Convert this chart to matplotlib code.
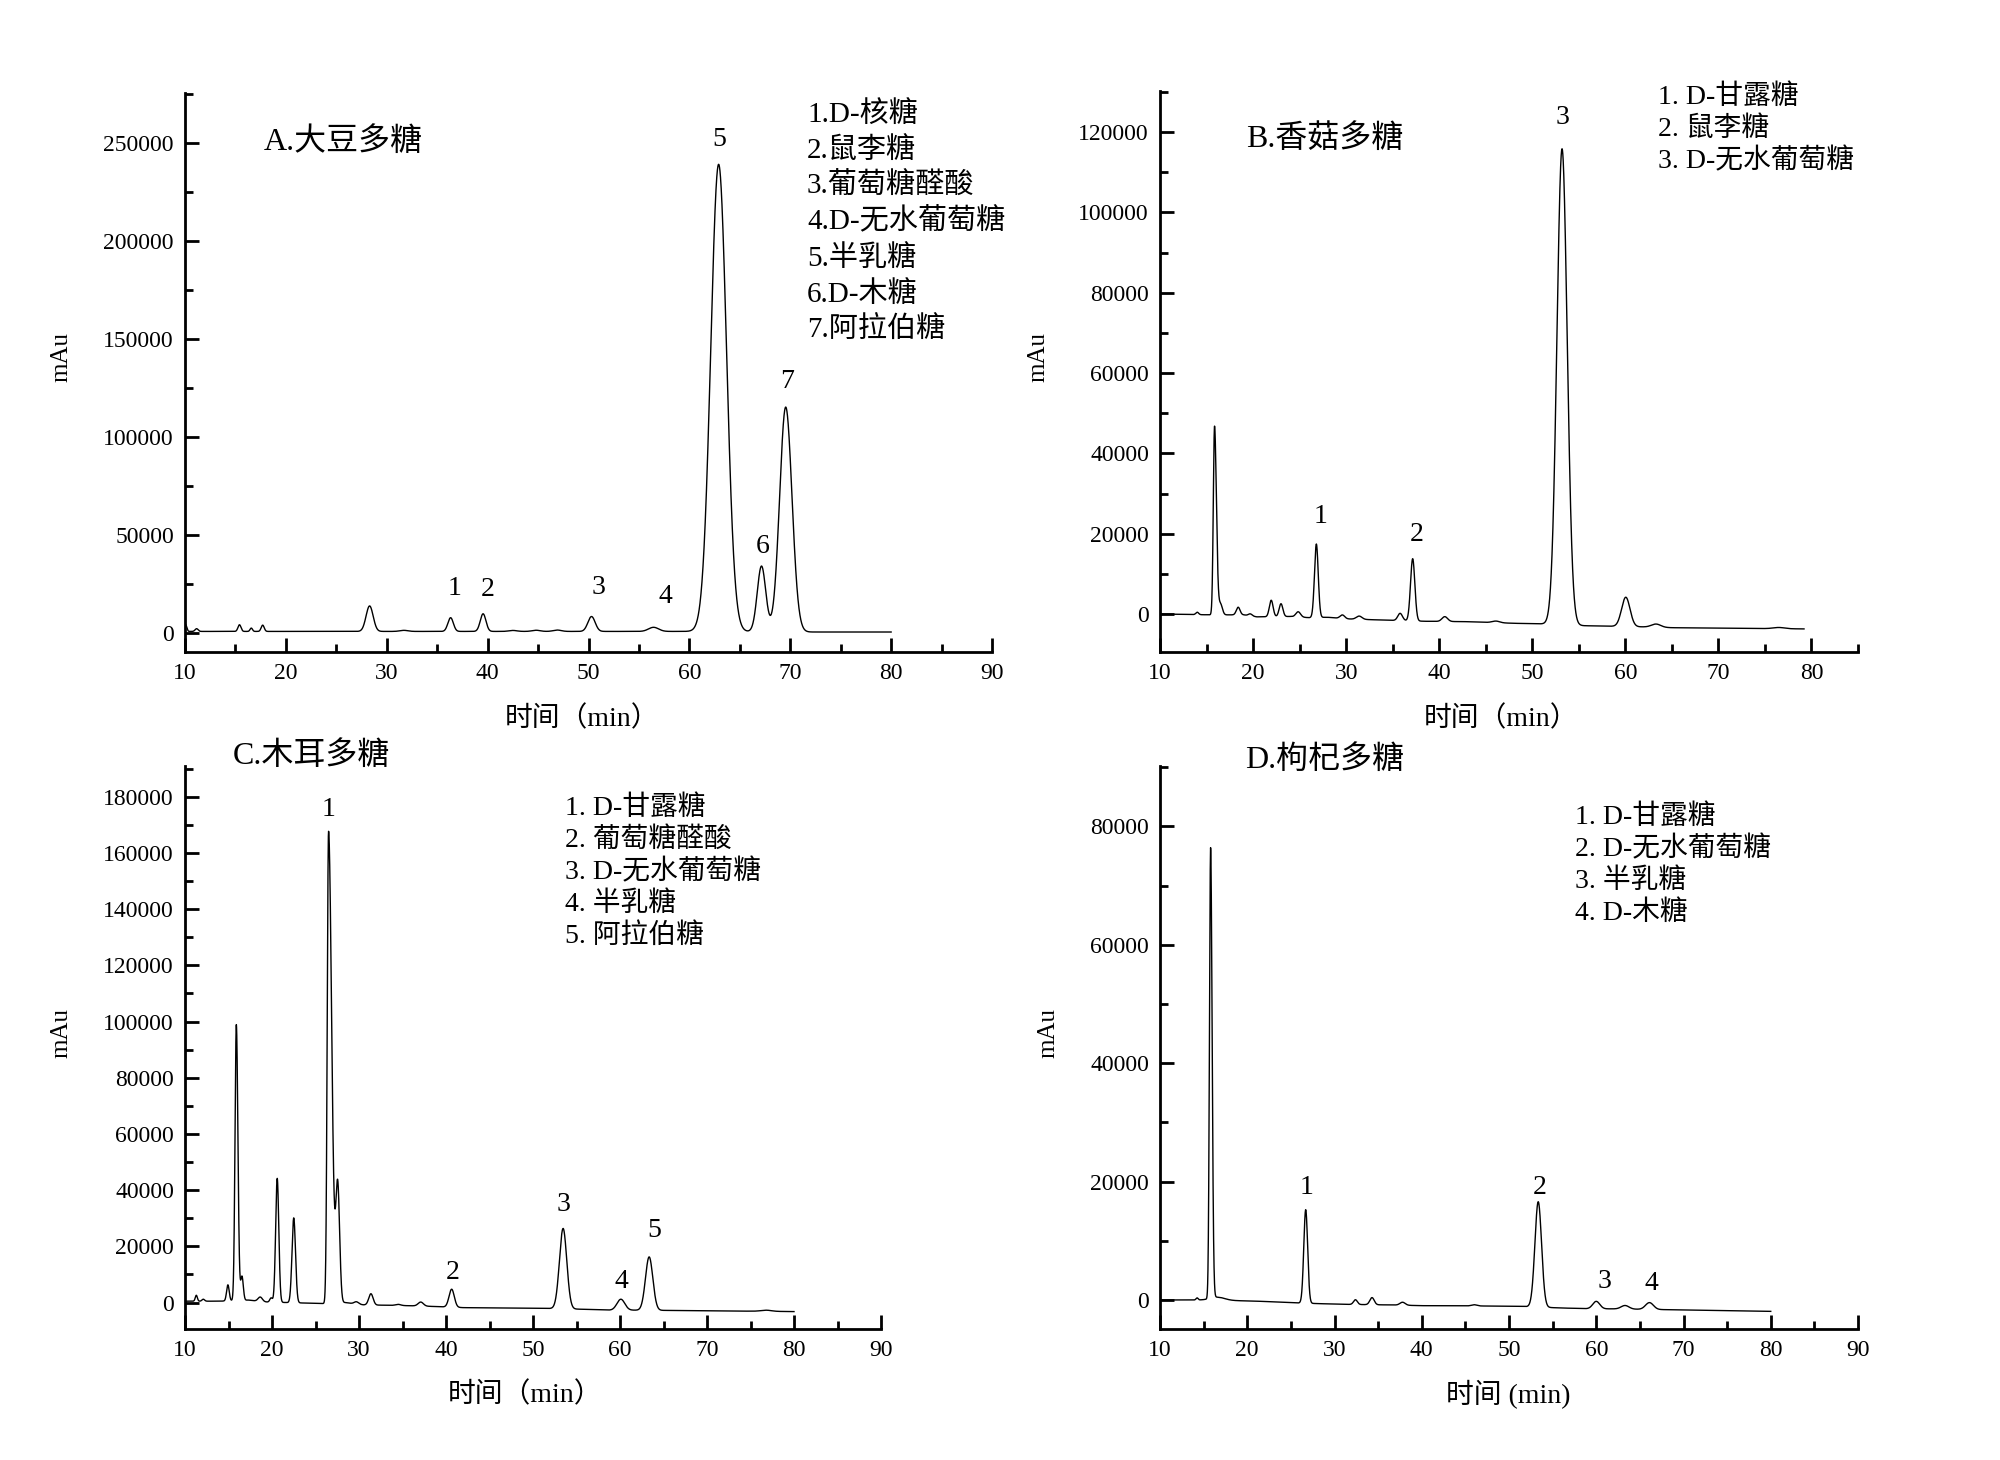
import matplotlib
matplotlib.use("Agg")
import matplotlib.pyplot as plt
from matplotlib.ticker import MultipleLocator
import numpy as np

plt.rcParams['font.family'] = ['Liberation Serif', 'Noto Sans CJK SC']

# ---------------- data ----------------
# peaks: retention time (min), height above baseline (mAu), left/right width (min)
# A. 大豆多糖
a_rt = [10.05, 11.15, 15.4, 16.57, 17.7, 28.3, 31.7, 36.33, 39.55, 42.5, 44.8, 46.9, 50.3, 56.45, 62.9, 67.15, 69.55]
a_h = [3600, 1400, 3400, 1700, 3200, 13000, 550, 7000, 9000, 500, 600, 700, 7600, 2100, 238400, 33500, 114700]
a_sl = [0.12, 0.15, 0.15, 0.12, 0.15, 0.35, 0.4, 0.27, 0.28, 0.4, 0.4, 0.4, 0.36, 0.5, 0.78, 0.42, 0.6]
a_sr = [0.12, 0.15, 0.15, 0.12, 0.15, 0.35, 0.4, 0.27, 0.28, 0.4, 0.4, 0.4, 0.36, 0.5, 0.78, 0.42, 0.62]
a_base_t = [10, 60, 72, 80]
a_base_v = [800, 800, 500, 500]
a_end = 80

# B. 香菇多糖
b_rt = [14.0, 15.86, 16.5, 18.4, 19.7, 21.95, 23.0, 24.85, 26.8, 29.6, 31.4, 35.8, 37.15, 40.6, 46.1, 53.2, 60.05, 63.3, 76.5]
b_h = [600, 47000, 2700, 1900, 500, 4100, 3200, 1300, 18300, 900, 800, 1800, 15500, 1200, 400, 118500, 7300, 800, 300]
b_sl = [0.15, 0.13, 0.2, 0.2, 0.2, 0.2, 0.2, 0.25, 0.2, 0.25, 0.3, 0.25, 0.23, 0.3, 0.4, 0.55, 0.45, 0.5, 0.6]
b_sr = [0.15, 0.2, 0.2, 0.2, 0.2, 0.2, 0.2, 0.25, 0.2, 0.25, 0.3, 0.25, 0.23, 0.3, 0.4, 0.55, 0.45, 0.5, 0.6]
b_base_t = [10, 15.5, 19, 20.4, 24, 26, 28, 30, 34, 38.5, 43, 48, 52, 55.5, 62, 65, 79.2]
b_base_v = [0, -200, -200, -700, -600, -900, -800, -1200, -1500, -1800, -1900, -2300, -2500, -2900, -3200, -3400, -3700]
b_end = 79.2

# C. 木耳多糖
c_rt = [11.3, 12.1, 14.93, 15.9, 16.55, 18.65, 19.9, 20.6, 22.5, 26.5, 27.55, 29.7, 31.37, 34.5, 37.1, 40.65, 53.46, 60.1, 63.35, 76.8]
c_h = [2100, 700, 5700, 98200, 8500, 1600, 1500, 44100, 30200, 168000, 42000, 800, 4000, 400, 1400, 6400, 28600, 3900, 19000, 400]
c_sl = [0.12, 0.15, 0.15, 0.15, 0.15, 0.25, 0.15, 0.18, 0.2, 0.15, 0.22, 0.25, 0.25, 0.3, 0.3, 0.3, 0.42, 0.45, 0.42, 0.6]
c_sr = [0.12, 0.15, 0.15, 0.18, 0.15, 0.25, 0.15, 0.18, 0.2, 0.35, 0.22, 0.25, 0.25, 0.3, 0.3, 0.3, 0.42, 0.45, 0.42, 0.6]
c_base_t = [10, 14, 17.3, 19, 25.9, 28.4, 30.5, 34, 37, 39.5, 42, 52, 56, 59, 61.6, 66, 80]
c_base_v = [500, 500, 900, 250, -350, 0, -800, -1000, -1200, -1500, -1800, -2100, -2400, -2700, -2700, -2800, -3200]
c_end = 80

# D. 枸杞多糖
d_rt = [14.25, 15.8, 16.6, 26.7, 32.4, 34.3, 37.8, 46.0, 53.35, 60.0, 63.3, 66.1]
d_h = [350, 76100, 500, 15800, 800, 1200, 500, 200, 17800, 1250, 600, 1150]
d_sl = [0.12, 0.13, 0.8, 0.22, 0.22, 0.25, 0.3, 0.3, 0.38, 0.4, 0.45, 0.45]
d_sr = [0.12, 0.17, 0.8, 0.22, 0.22, 0.25, 0.3, 0.3, 0.38, 0.4, 0.45, 0.45]
d_base_t = [10, 16, 21.7, 25.8, 28.3, 31, 37, 40, 46, 51, 56, 59, 62, 68.3, 80]
d_base_v = [0, 0, -230, -500, -620, -730, -850, -960, -1000, -1070, -1350, -1470, -1500, -1640, -1920]
d_end = 80

# peak number labels (text, time, mAu)
a_lab = ['1', '2', '3', '4', '5', '6', '7']
a_lab_t = [36.7, 40.0, 51.0, 57.6, 62.98, 67.3, 69.7]
a_lab_v = [22600, 22000, 23200, 18700, 252000, 44100, 128200]
b_lab = ['1', '2', '3']
b_lab_t = [27.3, 37.6, 53.27]
b_lab_v = [24300, 19800, 123600]
c_lab = ['1', '2', '3', '4', '5']
c_lab_t = [26.45, 40.8, 53.5, 60.2, 63.9]
c_lab_v = [175400, 10800, 34800, 7600, 25800]
d_lab = ['1', '2', '3', '4']
d_lab_t = [26.85, 53.5, 61.0, 66.3]
d_lab_v = [19000, 19000, 3050, 2830]

a_names = ['1.D-核糖', '2.鼠李糖', '3.葡萄糖醛酸', '4.D-无水葡萄糖', '5.半乳糖', '6.D-木糖', '7.阿拉伯糖']
b_names = ['1. D-甘露糖', '2. 鼠李糖', '3. D-无水葡萄糖']
c_names = ['1. D-甘露糖', '2. 葡萄糖醛酸', '3. D-无水葡萄糖', '4. 半乳糖', '5. 阿拉伯糖']
d_names = ['1. D-甘露糖', '2. D-无水葡萄糖', '3. 半乳糖', '4. D-木糖']

titles = ['A.大豆多糖', 'B.香菇多糖', 'C.木耳多糖', 'D.枸杞多糖']
xlabels = ['时间（min）', '时间（min）', '时间（min）', '时间 (min)']


def trace(t, rt, h, sl, sr, bt, bv):
    y = np.interp(t, bt, bv)
    for r, hh, a, b in zip(rt, h, sl, sr):
        s = np.where(t < r, a, b)
        y = y + hh * np.exp(-0.5 * ((t - r) / s) ** 2)
    return y


W, H = 2000, 1460
fig = plt.figure(figsize=(20, 14.6), dpi=100)


def px(x, y):
    return x / W, 1 - y / H


def make_axes(l, r, top, bot):
    return fig.add_axes([l / W, 1 - bot / H, (r - l) / W, (bot - top) / H])


panels = [
    dict(box=(185, 992, 93, 652), xlim=(10, 90), ylim=(-9700, 275500), ymaj=50000,
         rt=a_rt, h=a_h, sl=a_sl, sr=a_sr, bt=a_base_t, bv=a_base_v, end=a_end,
         lab=a_lab, lt=a_lab_t, lv=a_lab_v, names=a_names, nx=807, ny=114, nstep=36, nfs=21,
         title_xy=(264, 142), ylab_xy=(61, 357), xlab_xy=(582, 719)),
    dict(box=(1160, 1858, 91, 652), xlim=(10, 85), ylim=(-9450, 130250), ymaj=20000,
         rt=b_rt, h=b_h, sl=b_sl, sr=b_sr, bt=b_base_t, bv=b_base_v, end=b_end,
         lab=b_lab, lt=b_lab_t, lv=b_lab_v, names=b_names, nx=1658, ny=97, nstep=32, nfs=20,
         title_xy=(1246, 139), ylab_xy=(1038, 357), xlab_xy=(1501, 719)),
    dict(box=(185, 881, 766, 1329), xlim=(10, 90), ylim=(-9400, 190960), ymaj=20000,
         rt=c_rt, h=c_h, sl=c_sl, sr=c_sr, bt=c_base_t, bv=c_base_v, end=c_end,
         lab=c_lab, lt=c_lab_t, lv=c_lab_v, names=c_names, nx=565, ny=808, nstep=32, nfs=20,
         title_xy=(233, 756), ylab_xy=(61, 1033), xlab_xy=(525, 1395)),
    dict(box=(1160, 1858, 766, 1329), xlim=(10, 90), ylim=(-4900, 90200), ymaj=20000,
         rt=d_rt, h=d_h, sl=d_sl, sr=d_sr, bt=d_base_t, bv=d_base_v, end=d_end,
         lab=d_lab, lt=d_lab_t, lv=d_lab_v, names=d_names, nx=1575, ny=817, nstep=32, nfs=20,
         title_xy=(1245, 760), ylab_xy=(1048, 1033), xlab_xy=(1508, 1395)),
]

for i, p in enumerate(panels):
    ax = make_axes(*p['box'])
    t = np.linspace(10, p['end'], 8000)
    y = trace(t, p['rt'], p['h'], p['sl'], p['sr'], p['bt'], p['bv'])
    ax.plot(t, y, color='black', lw=1.0)

    ax.set_xlim(*p['xlim'])
    ax.set_ylim(*p['ylim'])
    for s in ['top', 'right']:
        ax.spines[s].set_visible(False)
    for s in ['left', 'bottom']:
        ax.spines[s].set_linewidth(2)
    ax.xaxis.set_major_locator(MultipleLocator(10))
    ax.xaxis.set_minor_locator(MultipleLocator(5))
    ax.yaxis.set_major_locator(MultipleLocator(p['ymaj']))
    ax.yaxis.set_minor_locator(MultipleLocator(p['ymaj'] / 2))
    ax.tick_params(which='major', direction='in', length=10, width=2, labelsize=17, pad=8)
    ax.tick_params(which='minor', direction='in', length=6, width=2)
    ax.ticklabel_format(axis='y', style='plain', useOffset=False)

    for s, tt, vv in zip(p['lab'], p['lt'], p['lv']):
        ax.text(tt, vv, s, ha='center', va='center', fontsize=20)

    for k, name in enumerate(p['names']):
        fig.text(*px(p['nx'], p['ny'] + k * p['nstep']), name, fontsize=p['nfs'],
                 ha='left', va='center')

    fig.text(*px(*p['title_xy']), titles[i], fontsize=23, ha='left', va='center')
    fig.text(*px(*p['ylab_xy']), 'mAu', fontsize=18, rotation=90, ha='center', va='center')
    fig.text(*px(*p['xlab_xy']), xlabels[i], fontsize=20, ha='center', va='center')

fig.savefig('out.png', dpi=100, facecolor='white')
